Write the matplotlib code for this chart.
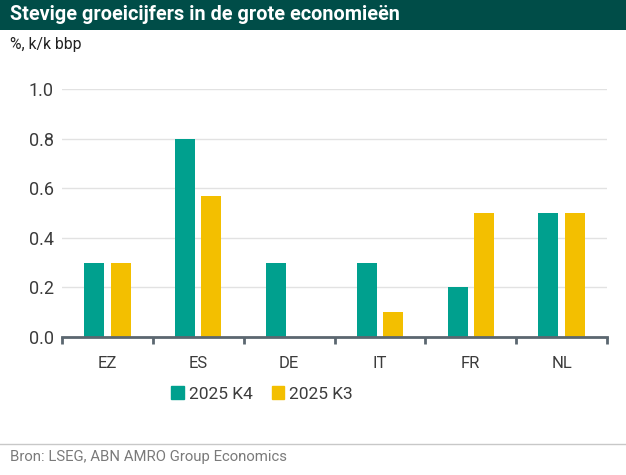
import matplotlib
matplotlib.use("Agg")
import matplotlib.pyplot as plt
from matplotlib.patches import Rectangle, Patch
import numpy as np

# Data
landen = ["EZ", "ES", "DE", "IT", "FR", "NL"]
k4_2025 = [0.3, 0.8, 0.3, 0.3, 0.2, 0.5]
k3_2025 = [0.3, 0.57, 0.0, 0.1, 0.5, 0.5]
y_ticks = [0.0, 0.2, 0.4, 0.6, 0.8, 1.0]

TEAL = "#00a08e"
GEEL = "#f3bf00"
KOP = "#004d48"
TEKST = "#3c3c3c"
AS = "#5b6770"

plt.rcParams["font.family"] = ["Roboto", "DejaVu Sans"]

fig = plt.figure(figsize=(6.26, 4.75), dpi=100)

# Kopbalk
fig.patches.append(Rectangle((0, 1 - 30 / 475), 1, 30 / 475, transform=fig.transFigure,
                             facecolor=KOP, edgecolor="none", zorder=0))
fig.text(10 / 626, 1 - 15 / 475, "Stevige groeicijfers in de grote economieën",
         color="white", fontsize=14.3, fontweight="bold", va="center", ha="left")
fig.text(10 / 626, 1 - 45 / 475, "%, k/k bbp", color="#222222", fontsize=11.3,
         va="center", ha="left")

ax = fig.add_axes([62 / 626, 1 - 337 / 475, (607 - 62) / 626, (337 - 89) / 475])
x = np.arange(len(landen))
breedte = 0.22
ax.bar(x - 0.145, k4_2025, breedte, color=TEAL, zorder=3, label="2025 K4")
ax.bar(x + 0.145, k3_2025, breedte, color=GEEL, zorder=3, label="2025 K3")

ax.set_xlim(-0.5, len(landen) - 0.5)
ax.set_ylim(0, 1.0)
ax.set_yticks(y_ticks)
ax.set_yticklabels([f"{v:.1f}" for v in y_ticks])
ax.set_xticks(x)
ax.set_xticklabels(landen)
ax.set_xticks(np.arange(-0.5, len(landen)), minor=True)

ax.grid(axis="y", color="#e2e2e2", linewidth=1, zorder=0)
for s in ["top", "right", "left"]:
    ax.spines[s].set_visible(False)
ax.spines["bottom"].set_color(AS)
ax.spines["bottom"].set_linewidth(2)
ax.spines["bottom"].set_zorder(4)

ax.tick_params(axis="y", length=0, pad=6, labelsize=13, labelcolor=TEKST)
ax.tick_params(axis="x", which="major", length=0, pad=14, labelsize=12, labelcolor=TEKST)
ax.tick_params(axis="x", which="minor", length=5, width=2, color=AS)

ax.legend(handles=[Patch(color=TEAL, label="2025 K4"), Patch(color=GEEL, label="2025 K3")],
          loc="center", bbox_to_anchor=(0.367, -0.23), ncol=2, frameon=False,
          fontsize=12.5, handlelength=0.7, handleheight=0.7, handletextpad=0.3,
          columnspacing=1.1, labelcolor=TEKST)

# Bronregel
fig.add_artist(plt.Line2D([0, 1], [1 - 444 / 475] * 2, transform=fig.transFigure,
                          color="#c8c8c8", linewidth=1))
fig.text(10 / 626, 1 - 457 / 475, "Bron: LSEG, ABN AMRO Group Economics",
         color="#7a7a7a", fontsize=10.7, va="center", ha="left")

fig.savefig("out.png", dpi=100)
